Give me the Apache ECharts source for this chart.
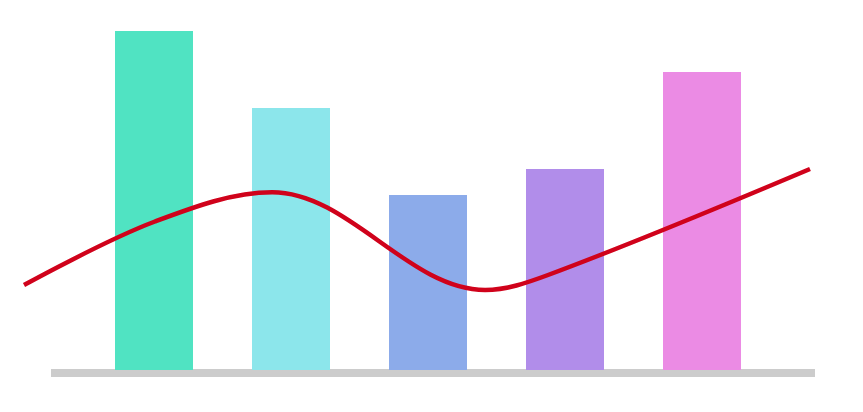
<!DOCTYPE html>
<html>
<head>
<meta charset="utf-8">
<script src="https://cdn.jsdelivr.net/npm/echarts@6/dist/echarts.min.js"></script>
<style>
html,body{margin:0;padding:0;background:#fff;}
#chart{width:863px;height:412px;}
</style>
</head>
<body>
<div id="chart"></div>
<script>
var categories = ['A', 'B', 'C', 'D', 'E'];
var barValues = [339, 262, 175, 201, 298];
var barColors = ['#50E3C2', '#8CE6EB', '#8CABEA', '#B18DEA', '#EB8BE4'];
var lineX = [0, 2, 3.79, 7.04, 8, 12];
var lineValues = [85, 148.5, 177.7, 80, 95, 201];

var chart = echarts.init(document.getElementById('chart'), null, {renderer: 'canvas'});
var option = {
  animation: false,
  backgroundColor: '#ffffff',
  grid: [
    {left: 85.5, right: 92.5, top: 30, bottom: 42},
    {left: 24, right: 53, top: 30, bottom: 42},
    {left: 51, right: 48, top: 30, bottom: 39}
  ],
  xAxis: [
    {type: 'category', gridIndex: 0, data: categories, show: false},
    {type: 'value', gridIndex: 1, min: 0, max: 12, show: false},
    {type: 'category', gridIndex: 2, data: categories, show: true,
     axisLine: {show: true, lineStyle: {color: '#cccccc', width: 8, cap: 'butt'}},
     axisTick: {show: false}, axisLabel: {show: false}, splitLine: {show: false}}
  ],
  yAxis: [
    {type: 'value', gridIndex: 0, min: 0, max: 340, show: false},
    {type: 'value', gridIndex: 1, min: 0, max: 340, show: false},
    {type: 'value', gridIndex: 2, min: 0, max: 340, show: false}
  ],
  series: [
    {
      type: 'bar', xAxisIndex: 0, yAxisIndex: 0, barWidth: 78, z: 2,
      data: barValues.map(function (v, i) { return {value: v, itemStyle: {color: barColors[i]}}; })
    },
    {
      type: 'line', xAxisIndex: 1, yAxisIndex: 1, smooth: 0.35, z: 5,
      symbol: 'none',
      data: lineX.map(function (x, i) { return [x, lineValues[i]]; }),
      lineStyle: {color: '#D0021B', width: 4.5, cap: 'butt'}
    }
  ]
};
chart.setOption(option);
</script>
</body>
</html>
